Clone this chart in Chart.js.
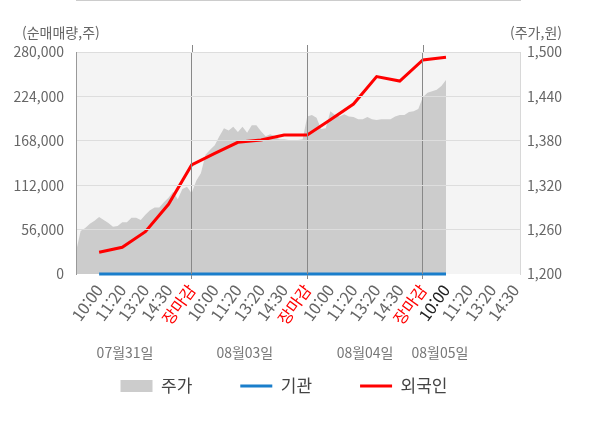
<!DOCTYPE html>
<html lang="ko">
<head>
<meta charset="utf-8">
<script src="https://cdn.jsdelivr.net/npm/chart.js@4.4.0/dist/chart.umd.min.js"></script>
<style>
  html, body { margin: 0; padding: 0; background: #fff; }
  #wrap { width: 600px; height: 428px; }
</style>
</head>
<body>
<div id="wrap"><canvas id="chart"></canvas></div>
<script>
// tick labels along the time axis (one every 5 slots, first at slot 5)
const xTickLabels = [
    '10:00', '11:20', '13:20', '14:30', '장마감',
    '10:00', '11:20', '13:20', '14:30', '장마감',
    '10:00', '11:20', '13:20', '14:30', '장마감',
    '10:00', '11:20', '13:20', '14:30'
];
const dayLabels = ['07월31일', '08월03일', '08월04일', '08월05일'];

// 주가 (원), one value per slot from the left edge
const price = [
    1230, 1258, 1262, 1268, 1272, 1277, 1273, 1269, 1264, 1265,
    1270, 1270, 1276, 1276, 1273, 1280, 1286, 1290, 1290, 1297,
    1303, 1311, 1301, 1315, 1318, 1309, 1326, 1336, 1361, 1368,
    1374, 1386, 1397, 1394, 1399, 1392, 1399, 1391, 1401, 1401,
    1393, 1386, 1389, 1386, 1382, 1382, 1381, 1380, 1381, 1382,
    1413, 1415, 1411, 1396, 1397, 1420, 1415, 1413, 1416, 1413,
    1412, 1409, 1409, 1412, 1409, 1408, 1409, 1409, 1409, 1413,
    1415, 1415, 1419, 1420, 1423, 1439, 1445, 1447, 1449, 1454,
    1462
];

// 순매매량 (주), one value per tick label
const foreign = [27400, 33700, 53400, 87900, 137500, 152100, 166100, 169000,
    175300, 175300, 194500, 214400, 249000, 243400, 269900, 273300];
const institution = [0, 0, 0, 0, 0, 0, 0, 0, 0, 0, 0, 0, 0, 0, 0, 0];

const SLOTS = 97, FIRST = 5, STEP = 5;
const tickIndex = i => {
    const k = (i - FIRST) / STEP;
    return Number.isInteger(k) && k >= 0 ? k : -1;
};
const labels = Array.from({ length: SLOTS }, (_, i) => {
    const k = tickIndex(i);
    return k >= 0 && k < xTickLabels.length ? xTickLabels[k] : '';
});
const atTicks = arr => labels.map((_, i) => {
    const k = tickIndex(i);
    return k >= 0 && k < arr.length ? arr[k] : null;
});

Chart.defaults.font.family = '"Noto Sans CJK KR", "Noto Sans", sans-serif';
Chart.defaults.color = '#666';

const decor = {
    id: 'decor',
    beforeDraw(chart) {
        const { ctx, chartArea: a } = chart;
        ctx.save();
        ctx.fillStyle = '#f4f4f4';
        ctx.fillRect(a.left, a.top, a.right - a.left, a.bottom - a.top);
        ctx.restore();
    },
    afterDraw(chart) {
        const { ctx, chartArea: a } = chart;
        const x = chart.scales.x;
        ctx.save();
        // close lines stick out a bit above the plot
        ctx.strokeStyle = '#888';
        ctx.lineWidth = 1;
        x.ticks.forEach(t => {
            if (t.label !== '장마감') return;
            const px = Math.round(x.getPixelForValue(t.value)) + 0.5;
            ctx.beginPath();
            ctx.moveTo(px, a.top - 7);
            ctx.lineTo(px, a.top);
            ctx.stroke();
        });
        ctx.fillStyle = '#666';
        ctx.font = '14px "Noto Sans CJK KR"';
        ctx.textBaseline = 'middle';
        ctx.textAlign = 'left';
        ctx.fillText('(순매매량,주)', 22, 33);
        ctx.textAlign = 'right';
        ctx.fillText('(주가,원)', 562, 33);
        ctx.fillStyle = '#777';
        ctx.textAlign = 'center';
        const daySlots = [10.6, 36.5, 62.5, 78.7];
        dayLabels.forEach((d, i) => {
            ctx.fillText(d, x.getPixelForValue(daySlots[i]), 353);
        });
        ctx.restore();
    }
};

new Chart(document.getElementById('chart'), {
    type: 'line',
    data: {
        labels: labels,
        datasets: [
            {
                label: '주가',
                data: price,
                yAxisID: 'y1',
                borderWidth: 0,
                borderColor: '#cccccc',
                backgroundColor: '#cccccc',
                fill: 'start',
                pointRadius: 0,
                pointStyle: 'rect',
                tension: 0,
                order: 3
            },
            {
                label: '기관',
                data: atTicks(institution),
                yAxisID: 'y',
                borderColor: '#1a7ecb',
                backgroundColor: '#1a7ecb',
                borderWidth: 3,
                pointRadius: 0,
                pointStyle: 'line',
                spanGaps: true,
                clip: 4,
                order: 2
            },
            {
                label: '외국인',
                data: atTicks(foreign),
                yAxisID: 'y',
                borderColor: '#ff0000',
                backgroundColor: '#ff0000',
                borderWidth: 3,
                pointRadius: 0,
                pointStyle: 'line',
                spanGaps: true,
                order: 1
            }
        ]
    },
    options: {
        responsive: true,
        maintainAspectRatio: false,
        animation: false,
        layout: { padding: { top: 52, left: 0, right: 32, bottom: 23.5 } },
        plugins: {
            tooltip: { enabled: false },
            legend: {
                position: 'bottom',
                reverse: true,
                labels: {
                    usePointStyle: true,
                    pointStyleWidth: 32,
                    boxHeight: 12,
                    padding: 48,
                    color: '#444',
                    font: { size: 17 }
                }
            }
        },
        scales: {
            x: {
                type: 'category',
                afterBuildTicks: axis => {
                    axis.ticks = labels.map((l, i) => ({ value: i })).filter(t => labels[t.value] !== '');
                },
                afterFit: axis => { axis.height = 55.5; },
                grid: {
                    z: 1,
                    tickLength: 5,
                    color: c => (c.tick && c.tick.label === '장마감') ? '#888' : 'rgba(0,0,0,0)'
                },
                border: { color: '#999' },
                ticks: {
                    autoSkip: false,
                    minRotation: 54,
                    maxRotation: 54,
                    padding: 2,
                    font: { size: 16 },
                    color: c => {
                        if (c.tick && c.tick.label === '장마감') return '#ff0000';
                        if (c.index === 15) return '#222';
                        return '#666';
                    }
                }
            },
            y: {
                position: 'left',
                min: 0,
                max: 280000,
                afterFit: axis => { axis.width = 76; },
                grid: {
                    z: 1,
                    drawTicks: false,
                    color: c => (c.tick && c.tick.value === 0) ? 'rgba(0,0,0,0)' : '#dddddd'
                },
                border: { color: '#999', z: 1 },
                ticks: {
                    stepSize: 56000,
                    padding: 12,
                    font: { size: 14 },
                    callback: v => v.toLocaleString('en-US')
                }
            },
            y1: {
                position: 'right',
                min: 1200,
                max: 1500,
                afterFit: axis => { axis.width = 48; },
                grid: { display: false, drawTicks: false },
                border: { color: '#d8d8d8', z: 1 },
                ticks: {
                    stepSize: 60,
                    padding: 7,
                    font: { size: 14 },
                    callback: v => v.toLocaleString('en-US')
                }
            }
        }
    },
    plugins: [decor]
});
</script>
</body>
</html>
